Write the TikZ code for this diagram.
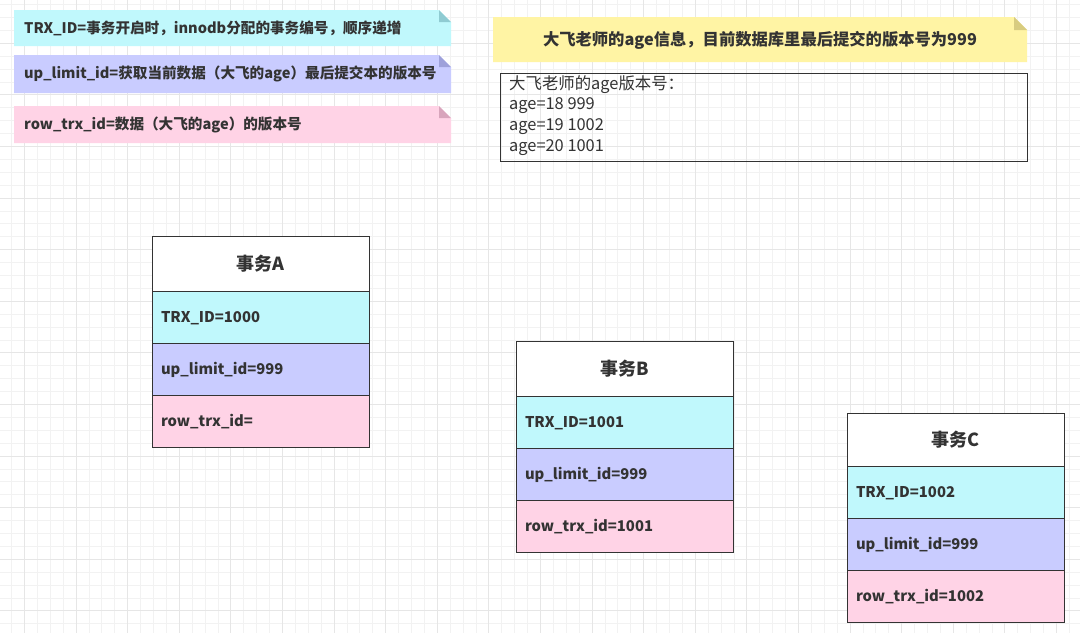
\documentclass[tikz,border=0pt]{standalone}
\usepackage{fontspec}
\setmainfont{Noto Sans CJK SC}
\definecolor{cyanf}{HTML}{C0F8FC}
\definecolor{cyank}{HTML}{8FCBD2}
\definecolor{lavf}{HTML}{C9CCFF}
\definecolor{lavk}{HTML}{9EA1DA}
\definecolor{pinkf}{HTML}{FFD3E6}
\definecolor{pinkk}{HTML}{D8A5BC}
\definecolor{yelf}{HTML}{FFF4A4}
\definecolor{yelk}{HTML}{D8CC80}
\definecolor{txt}{HTML}{333333}
\definecolor{gridminor}{HTML}{F2F2F2}
\definecolor{gridmajor}{HTML}{E6E6E6}
\begin{document}
\begin{tikzpicture}[x=1pt,y=-1pt,
  notebox/.style={anchor=north west, inner xsep=10pt, inner ysep=0pt, align=left,
     font=\bfseries\fontsize{14.6}{16}\selectfont, text=txt},
  cell/.style={draw=txt, line width=0.9pt, anchor=north west, inner ysep=0pt, outer sep=0pt},
  hdr/.style={cell, fill=white, minimum width=217pt, font=\bfseries\fontsize{18}{20}\selectfont, text=txt},
  rowc/.style={cell, inner xsep=9pt, text width=199pt, align=left, minimum height=52pt,
     text height=10.5pt, text depth=0pt,
     font=\bfseries\fontsize{14.8}{16}\selectfont, text=txt},
  boxtext/.style={anchor=north west, align=left, inner sep=0pt, text=txt,
     font=\fontsize{16.4}{20.7}\selectfont}]
\useasboundingbox (0,0) rectangle (1080,633);
\fill[white] (0,0) rectangle (1080,633);
% grid
\foreach \x in {11.5,24.4,...,1080} \draw[gridminor, line width=0.7pt] (\x,0) -- (\x,633);
\foreach \y in {4.5,17.4,...,633} \draw[gridminor, line width=0.7pt] (0,\y) -- (1080,\y);
\foreach \x in {24.4,76,...,1080} \draw[gridmajor, line width=0.9pt] (\x,0) -- (\x,633);
\foreach \y in {43.2,94.8,...,633} \draw[gridmajor, line width=0.9pt] (0,\y) -- (1080,\y);

% notes
\fill[cyanf] (14,10) -- (439,10) -- (451,22) -- (451,46) -- (14,46) -- cycle;
\fill[cyank] (439,10) -- (439,22) -- (451,22) -- cycle;
\node[notebox] (n1) at (14,28) [anchor=west] {TRX\_ID=事务开启时，innodb分配的事务编号，顺序递增};

\fill[lavf] (14,55) -- (439,55) -- (451,67) -- (451,93) -- (14,93) -- cycle;
\fill[lavk] (439,55) -- (439,67) -- (451,67) -- cycle;
\node[notebox] (n2) at (14,74) [anchor=west] {up\_limit\_id=获取当前数据（大飞的age）最后提交本的版本号};

\fill[pinkf] (14,106) -- (439,106) -- (451,118) -- (451,143) -- (14,143) -- cycle;
\fill[pinkk] (439,106) -- (439,118) -- (451,118) -- cycle;
\node[notebox] (n3) at (14,125) [anchor=west] {row\_trx\_id=数据（大飞的age）的版本号};

\fill[yelf] (493,17) -- (1014,17) -- (1027,30) -- (1027,62) -- (493,62) -- cycle;
\fill[yelk] (1014,17) -- (1014,30) -- (1027,30) -- cycle;
\node[font=\bfseries\fontsize{16.3}{18}\selectfont, text=txt] (n4) at (760,40) {大飞老师的age信息，目前数据库里最后提交的版本号为999};

% version box
\node[draw=txt, line width=1.2pt, anchor=north west, minimum width=527pt, minimum height=88pt, inner sep=0pt] (vbox) at (500,73) {};
\node[boxtext] (vtext) at (509,75) {大飞老师的age版本号：\\age=18 999\\age=19 1002\\age=20 1001};

% table A
\node[hdr, minimum height=55pt] (aH) at (152,236) {事务A};
\node[rowc, fill=cyanf] (a1) at (aH.south west) {TRX\_ID=1000};
\node[rowc, fill=lavf] (a2) at (a1.south west) {up\_limit\_id=999};
\node[rowc, fill=pinkf] (a3) at (a2.south west) {row\_trx\_id=};

% table B
\node[hdr, minimum height=55pt] (bH) at (516,341) {事务B};
\node[rowc, fill=cyanf] (b1) at (bH.south west) {TRX\_ID=1001};
\node[rowc, fill=lavf] (b2) at (b1.south west) {up\_limit\_id=999};
\node[rowc, fill=pinkf] (b3) at (b2.south west) {row\_trx\_id=1001};

% table C
\node[hdr, minimum height=53pt] (cH) at (847,413) {事务C};
\node[rowc, fill=cyanf] (c1) at (cH.south west) {TRX\_ID=1002};
\node[rowc, fill=lavf] (c2) at (c1.south west) {up\_limit\_id=999};
\node[rowc, fill=pinkf] (c3) at (c2.south west) {row\_trx\_id=1002};
\end{tikzpicture}
\end{document}
